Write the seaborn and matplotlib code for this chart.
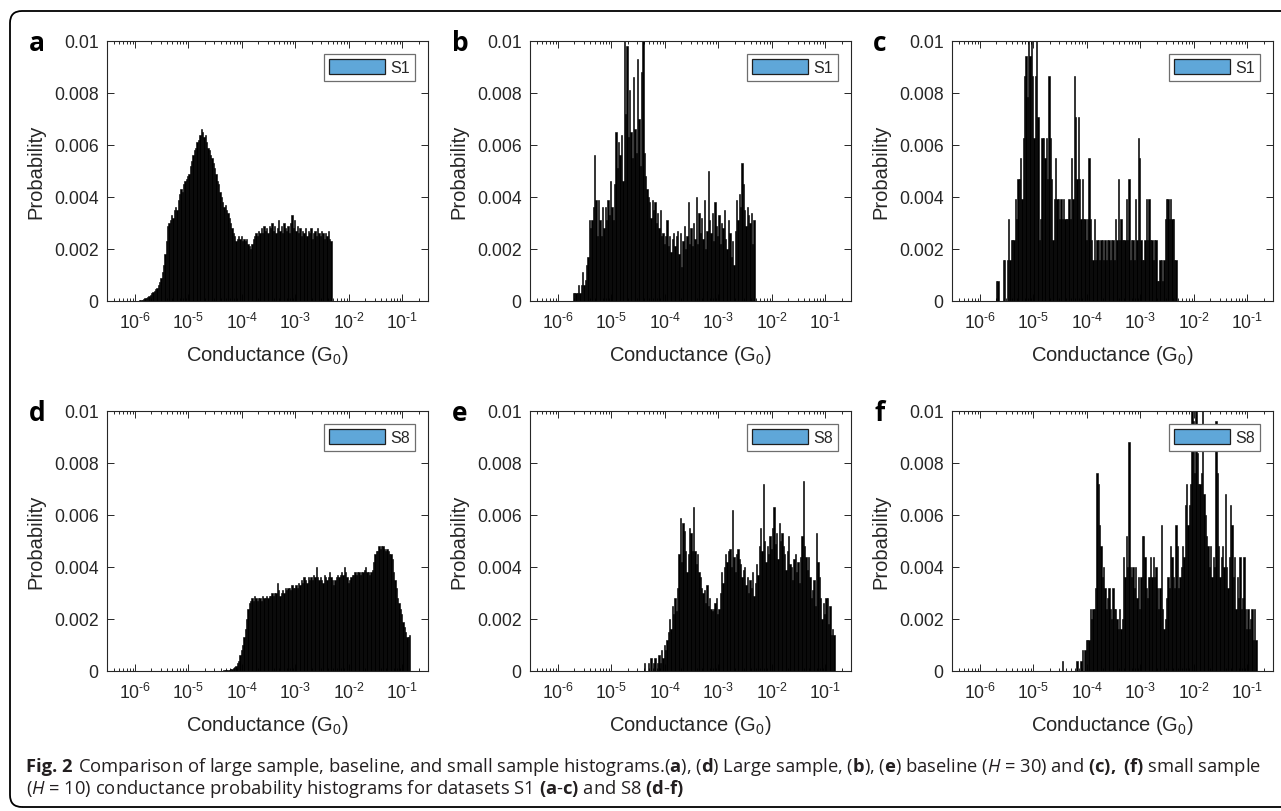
import numpy as np
import matplotlib
matplotlib.use("Agg")
import matplotlib.pyplot as plt
import seaborn as sns
from matplotlib.patches import Patch, FancyBboxPatch
from matplotlib.ticker import NullFormatter

W, H = 1281, 812

# all histograms use bins of 0.025 decade; *_start is the first left edge (log10 G/G0)
bin_step = 0.025

# S1 large sample (units of 1e-3)
a_start = -5.95
a_prob = [0, 0.02, 0.03, 0.05, 0.07, 0.1, 0.12, 0.15, 0.2, 0.25, 0.3, 0.35,
          0.4, 0.45, 0.5, 0.6, 0.75, 0.9, 1.1, 1.4, 1.8, 2.3, 2.9, 3.0,
          3.1, 3.3, 3.2, 3.5, 3.6, 3.5, 3.9, 4.1, 4.3, 4.2, 4.5, 4.6,
          4.7, 4.8, 4.9, 5.2, 5.4, 5.6, 5.8, 5.9, 6.1, 6.2, 6.4, 6.6,
          6.5, 6.3, 6.4, 6.1, 5.9, 5.8, 5.6, 5.5, 5.3, 5.1, 4.9, 4.6,
          4.5, 4.2, 4.0, 3.8, 3.6, 3.7, 3.5, 3.4, 3.2, 3.0, 2.8, 2.6,
          2.5, 2.3, 2.4, 2.5, 2.4, 2.5, 2.3, 2.4, 2.3, 2.4, 2.2, 2.1,
          2.0, 2.2, 2.4, 2.5, 2.6, 2.5, 2.7, 2.6, 2.8, 2.6, 2.9, 2.7,
          2.8, 2.6, 2.9, 2.8, 3.0, 2.7, 2.9, 2.6, 2.8, 3.1, 2.7, 2.9,
          2.6, 3.0, 2.8, 2.7, 2.9, 2.6, 3.0, 3.3, 2.8, 3.1, 2.7, 2.9,
          2.6, 2.8, 2.5, 2.7, 2.6, 2.8, 2.5, 2.7, 2.6, 2.8, 2.4, 2.6,
          2.7, 2.5, 2.8, 2.6, 2.5, 2.7, 2.6, 2.4, 2.6, 2.5, 2.7, 2.4, 2.3]

# S1 baseline, H = 30 (units of 1e-3)
b_start = -5.725
b_prob = [0.3, 0.3, 0.3, 0.3, 0.6, 0.3, 0.6, 1.1, 0.6, 0.8, 1.4, 1.7,
          3.1, 2.8, 3.1, 3.6, 5.6, 3.9, 2.5, 3.9, 3.1, 2.5, 3.6, 2.8,
          3.6, 3.1, 3.9, 3.3, 4.6, 3.6, 3.1, 4.5, 6.5, 5.1, 6.1, 5.6,
          6.4, 4.6, 10.0, 7.2, 9.8, 6.3, 8.1, 6.5, 5.5, 8.6, 6.6, 5.7,
          9.3, 7.0, 5.2, 8.8, 10.0, 5.7, 4.8, 4.3, 4.0, 3.8, 3.2, 3.9,
          3.5, 3.8, 3.0, 3.4, 2.8, 3.5, 2.5, 2.6, 2.2, 2.5, 3.1, 2.1,
          2.5, 1.9, 2.4, 2.6, 2.1, 2.5, 2.7, 1.8, 2.6, 1.3, 2.3, 2.9,
          2.0, 2.5, 3.8, 2.2, 2.8, 2.1, 3.0, 2.4, 4.0, 2.2, 3.4, 2.6,
          3.2, 2.4, 3.9, 2.0, 2.7, 5.0, 3.1, 2.6, 3.4, 2.3, 3.8, 2.9,
          2.5, 3.3, 2.2, 3.0, 2.8, 3.5, 2.4, 2.0, 3.1, 2.6, 1.7, 2.3,
          1.4, 2.7, 3.9, 3.1, 4.1, 3.6, 5.3, 4.5, 3.5, 2.9, 3.6, 3.3,
          3.0, 3.4, 2.2, 3.1]

# S1 small sample, H = 10 (counts of c_quantum)
c_start = -5.70
c_quantum = 0.000785
c_counts = [1, 1, 0, 0, 0, 2, 2, 0, 2, 4, 2, 3, 3, 3, 5, 4, 6, 6, 7, 5, 8,
            11, 12, 10, 13, 12, 13, 11, 8, 11, 13, 9, 3, 4, 8, 8, 7, 8, 6,
            11, 8, 6, 3, 5, 7, 5, 5, 4, 5, 4, 5, 4, 4, 4, 5, 4, 7, 5, 11,
            9, 6, 9, 6, 4, 6, 4, 4, 3, 4, 7, 4, 3, 2, 4, 2, 3, 3, 2, 3,
            3, 2, 3, 2, 3, 3, 2, 3, 3, 2, 4, 3, 6, 3, 4, 3, 3, 3, 5, 3,
            6, 2, 3, 3, 2, 5, 3, 8, 7, 3, 2, 2, 3, 5, 3, 5, 3, 3, 2, 3,
            3, 1, 1, 2, 2, 1, 2, 4, 5, 5, 4, 5, 4, 4, 2, 2]

# S8 large sample (units of 1e-3)
d_start = -4.40
d_prob = [0.01, 0.01, 0.02, 0.02, 0.03, 0.04, 0.05, 0.07, 0.09, 0.12, 0.15, 0.2,
          0.3, 0.4, 0.6, 0.8, 1.0, 1.3, 1.6, 2.0, 2.4, 2.6, 2.7, 2.8,
          2.7, 2.9, 2.8, 2.7, 2.8, 2.8, 2.7, 2.9, 2.8, 2.8, 2.9, 2.8,
          2.9, 2.9, 3.0, 2.9, 3.0, 3.0, 3.4, 3.1, 2.9, 3.0, 3.1, 3.0,
          3.2, 3.1, 3.2, 3.2, 3.1, 3.3, 3.2, 3.2, 3.3, 3.2, 3.4, 3.3,
          3.5, 3.4, 3.6, 3.5, 3.4, 3.6, 3.5, 3.6, 3.5, 3.7, 3.6, 4.0,
          3.6, 3.5, 3.6, 3.5, 3.4, 3.7, 3.6, 3.5, 3.6, 3.8, 3.6, 3.5,
          3.3, 3.5, 3.6, 3.7, 3.6, 3.7, 3.8, 3.7, 4.0, 3.8, 3.6, 3.4,
          3.5, 3.6, 3.7, 3.7, 3.8, 3.7, 3.8, 3.8, 3.7, 3.8, 3.8, 3.9,
          4.0, 3.8, 3.8, 3.7, 3.8, 3.9, 4.2, 4.5, 4.6, 4.6, 4.8, 4.7,
          4.8, 4.8, 4.7, 4.6, 4.7, 4.6, 4.5, 4.5, 4.3, 3.8, 3.5, 3.2,
          2.8, 2.6, 2.4, 2.2, 1.9, 1.7, 1.5, 1.3, 1.3, 1.4]

# S8 baseline, H = 30 (units of 1e-3)
e_start = -4.45
e_prob = [0, 0, 0.3, 0, 0, 0.3, 0, 0.5, 0, 0.3, 0.5, 0,
          0.3, 0.6, 0.3, 0.8, 0.5, 1.0, 0.8, 1.2, 1.5, 2.0, 1.6, 2.5,
          2.2, 2.8, 2.3, 3.2, 4.5, 5.9, 4.2, 5.7, 5.4, 4.6, 3.8, 4.5,
          5.5, 5.3, 4.6, 6.3, 4.6, 4.1, 4.5, 3.8, 3.6, 3.2, 3.0, 3.1,
          2.6, 3.3, 2.5, 2.8, 2.4, 2.3, 2.4, 2.6, 2.8, 2.2, 2.4, 3.0,
          3.8, 3.4, 4.0, 4.5, 4.2, 4.6, 4.7, 4.0, 6.2, 4.4, 3.8, 4.5,
          4.7, 4.3, 4.1, 3.6, 3.9, 4.0, 3.3, 3.6, 3.0, 3.5, 3.2, 3.8,
          2.9, 3.4, 4.1, 3.7, 4.8, 5.5, 4.6, 7.2, 5.0, 4.2, 4.8, 4.5,
          5.2, 4.7, 5.5, 6.3, 4.9, 5.3, 4.3, 5.7, 5.0, 5.3, 4.8, 4.5,
          3.9, 4.6, 5.2, 4.1, 4.0, 3.5, 4.3, 4.5, 3.8, 4.2, 3.4, 4.4,
          5.2, 7.3, 4.8, 4.4, 3.9, 4.4, 3.6, 2.8, 3.1, 3.5, 2.5, 5.3,
          4.2, 3.6, 2.8, 2.0, 2.6, 2.2, 2.8, 2.8, 1.8, 2.5, 1.4, 1.6, 1.4]

# S8 small sample, H = 10 (counts of f_quantum)
f_start = -4.50
f_quantum = 0.0004
f_counts = [0, 1, 0, 0, 0, 0, 0, 0, 0, 0, 0, 0, 1, 0, 0, 1, 2, 0, 2, 3,
            3, 3, 6, 5, 6, 6, 8, 19, 18, 14, 12, 9, 10, 8, 6, 7, 8, 6, 5, 8,
            6, 6, 5, 4, 6, 4, 5, 11, 9, 13, 10, 22, 10, 9, 10, 8, 10, 7, 9, 6,
            9, 13, 13, 11, 8, 7, 9, 11, 9, 11, 9, 10, 8, 6, 8, 14, 6, 4, 5, 7,
            9, 8, 12, 11, 9, 8, 14, 12, 8, 9, 10, 12, 11, 16, 18, 14, 16, 18, 26, 24,
            19, 26, 21, 18, 18, 19, 26, 17, 15, 13, 12, 10, 12, 9, 11, 10, 24, 19, 12, 9,
            11, 12, 10, 17, 10, 8, 11, 16, 14, 9, 11, 6, 9, 7, 11, 6, 7, 11, 6, 4,
            6, 4, 5, 6, 3, 6, 3]

panel_letters = ["a", "b", "c", "d", "e", "f"]
dataset_names = ["S1", "S1", "S1", "S8", "S8", "S8"]
xtick_values = [1e-6, 1e-5, 1e-4, 1e-3, 1e-2, 1e-1]
xtick_labels = [r"$\mathregular{10^{\text{-}%d}}$" % k for k in [6, 5, 4, 3, 2, 1]]
ytick_values = [0, 0.002, 0.004, 0.006, 0.008, 0.01]
ytick_labels = ["0", "0.002", "0.004", "0.006", "0.008", "0.01"]

series = [
    (a_start, np.array(a_prob) * 1e-3),
    (b_start, np.array(b_prob) * 1e-3),
    (c_start, np.array(c_counts) * c_quantum),
    (d_start, np.array(d_prob) * 1e-3),
    (e_start, np.array(e_prob) * 1e-3),
    (f_start, np.array(f_counts) * f_quantum),
]

sns.set_theme(style="ticks")
plt.rcParams["font.family"] = ["Liberation Sans", "DejaVu Sans"]
plt.rcParams["mathtext.fontset"] = "custom"
plt.rcParams["mathtext.rm"] = "Open Sans"
plt.rcParams["mathtext.bf"] = "Open Sans:bold"
plt.rcParams["mathtext.it"] = "Open Sans:italic"
plt.rcParams["axes.unicode_minus"] = False

fig = plt.figure(figsize=(W / 100, H / 100), dpi=100)
fig.patch.set_facecolor("white")

ax_w, ax_h = 321, 260
lefts = [107, 530, 952]
tops = [42, 412]
letter_x = [37, 460, 880]
letter_base = [51, 421]
dark = "#262626"

for k in range(6):
    row, col = divmod(k, 3)
    l, t = lefts[col], tops[row]
    ax = fig.add_axes([l / W, 1 - (t + ax_h) / H, ax_w / W, ax_h / H])
    start, probs = series[k]
    edges = start + bin_step * np.arange(len(probs) + 1)
    centers = 10 ** (edges[:-1] + bin_step / 2)
    sns.histplot(x=centers, weights=probs, bins=list(edges), log_scale=True,
                 stat="count", color="black", edgecolor="black",
                 linewidth=0.4, alpha=1, ax=ax)
    ax.set_xlim(3e-7, 0.3)
    ax.set_ylim(0, 0.01)
    ax.set_xticks(xtick_values)
    ax.set_xticklabels(xtick_labels)
    ax.xaxis.set_minor_formatter(NullFormatter())
    ax.set_yticks(ytick_values)
    ax.set_yticklabels(ytick_labels)
    ax.tick_params(which="both", direction="in", top=True, right=True,
                   color=dark, labelcolor=dark, labelsize=12.7, width=0.7)
    ax.tick_params(which="major", length=5)
    ax.tick_params(axis="x", which="major", pad=8)
    ax.tick_params(axis="y", which="major", pad=6)
    ax.tick_params(which="minor", length=2.5)
    for sp in ax.spines.values():
        sp.set_color(dark)
        sp.set_linewidth(0.8)
    ax.set_ylabel("Probability", fontsize=14.5, color=dark)
    ax.set_xlabel(r"Conductance ($\mathregular{G_0}$)", fontsize=14.5, color=dark)
    ax.yaxis.set_label_coords(-62 / ax_w, 0.5)
    ax.xaxis.set_label_coords(0.5, -42 / ax_h)

    handle = Patch(facecolor="#5fa7d9", edgecolor="#1f1f1f", linewidth=0.9)
    leg = ax.legend([handle], [dataset_names[k]], loc="upper right",
                    fontsize=11.5, handlelength=3.5, handleheight=1.05,
                    handletextpad=0.3, borderpad=0.35, borderaxespad=0.8,
                    fancybox=False, framealpha=1, edgecolor="#6e6e6e")
    leg.get_frame().set_linewidth(0.9)

    fig.text(letter_x[col] / W, 1 - letter_base[row] / H, panel_letters[k],
             family="Open Sans", weight="bold", fontsize=19, color="black",
             ha="center", va="baseline")

# caption: bold "Fig. 2" first, the rest of line 1 placed right after it
cap_size = 13.2
cap_color = "#231f20"
cap_x = 26
fig_label = fig.text(cap_x / W, 1 - 772 / H, "Fig. 2", family="Open Sans",
                     weight="bold", fontsize=cap_size, color=cap_color,
                     ha="left", va="baseline")
renderer = fig.canvas.get_renderer()
label_end = fig_label.get_window_extent(renderer).x1
cap1 = (r"Comparison of large sample, baseline, and small sample "
        r"histograms.($\mathbf{a}$), ($\mathbf{d}$) Large sample, ($\mathbf{b}$), "
        r"($\mathbf{e}$) baseline ($\mathit{H}$ = 30) and $\mathbf{(c),}$ $\mathbf{(f)}$ small sample")
cap2 = (r"($\mathit{H}$ = 10) conductance probability histograms for datasets S1 "
        r"$\mathbf{(a}$-$\mathbf{c)}$ and S8 $\mathbf{(d}$-$\mathbf{f)}$")
fig.text((label_end + 5) / W, 1 - 772 / H, cap1, family="Open Sans",
         fontsize=cap_size, color=cap_color, ha="left", va="baseline")
fig.text(cap_x / W, 1 - 794 / H, cap2, family="Open Sans", fontsize=cap_size,
         color=cap_color, ha="left", va="baseline")

# rounded frame around the figure
frame = FancyBboxPatch((0.10, 0.04), 13.2, 7.96,
                       boxstyle="round,pad=0,rounding_size=0.12",
                       transform=fig.dpi_scale_trans, fill=False,
                       edgecolor="black", linewidth=1.3)
fig.add_artist(frame)

fig.savefig("out.png", dpi=100)
